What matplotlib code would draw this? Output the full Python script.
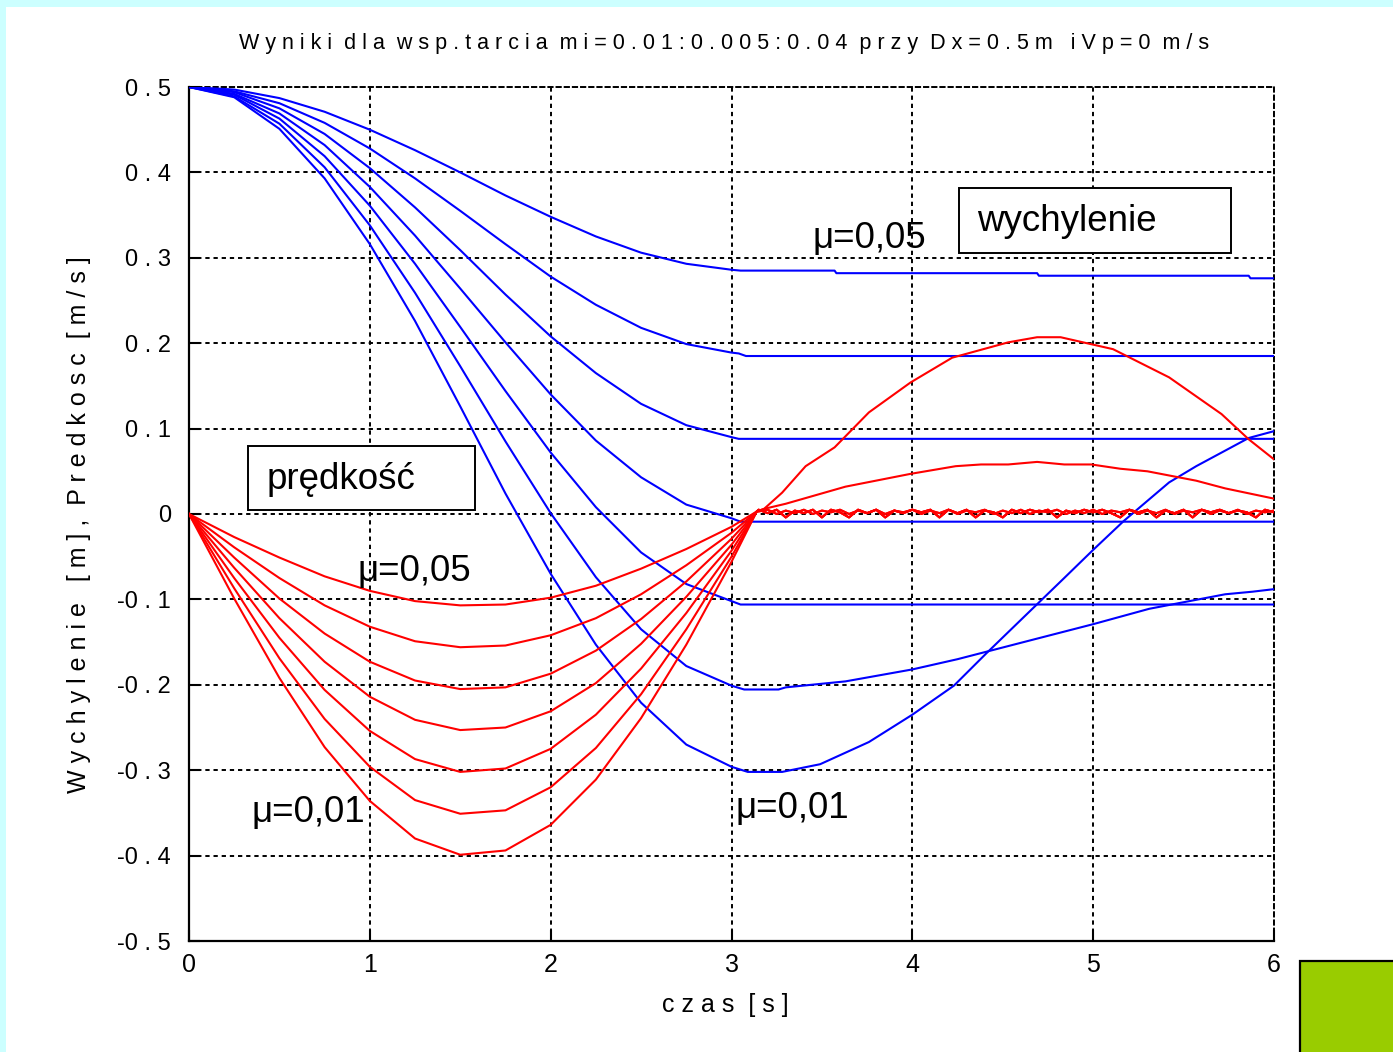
import numpy as np
import matplotlib
matplotlib.use("Agg")
import matplotlib.pyplot as plt
from matplotlib.patches import Rectangle

# ---------------- data ----------------
T_SWING = [0, 0.25, 0.5, 0.75, 1.0, 1.25, 1.5, 1.75, 2.0, 2.25, 2.5, 2.75, 3.0]

# displacement (wychylenie) during the first swing, top curve -> bottom curve
wych_1 = [0.5, 0.497, 0.487, 0.471, 0.450, 0.426, 0.400, 0.373, 0.348, 0.325, 0.306, 0.293, 0.286]
wych_2 = [0.5, 0.495, 0.481, 0.458, 0.428, 0.393, 0.355, 0.316, 0.278, 0.245, 0.218, 0.199, 0.189]
wych_3 = [0.5, 0.494, 0.475, 0.445, 0.405, 0.359, 0.309, 0.257, 0.208, 0.165, 0.129, 0.104, 0.090]
wych_4 = [0.5, 0.492, 0.469, 0.432, 0.383, 0.326, 0.264, 0.201, 0.140, 0.086, 0.043, 0.011, -0.005]
wych_5 = [0.5, 0.491, 0.463, 0.419, 0.361, 0.293, 0.219, 0.144, 0.072, 0.008, -0.045, -0.082, -0.102]
wych_6 = [0.5, 0.489, 0.457, 0.406, 0.338, 0.259, 0.173, 0.085, 0.001, -0.074, -0.135, -0.178, -0.201]
wych_7 = [0.5, 0.488, 0.451, 0.393, 0.316, 0.226, 0.126, 0.024, -0.070, -0.153, -0.221, -0.270, -0.296]

# displacement after the first swing (time, value)
tail1_t = [3.05, 3.57, 3.58, 4.69, 4.70, 5.86, 5.87, 6.0]
tail1_v = [0.285, 0.285, 0.282, 0.282, 0.279, 0.279, 0.276, 0.276]
tail2_t = [3.04, 3.08, 6.0]
tail2_v = [0.188, 0.185, 0.185]
tail3_t = [3.04, 6.0]
tail3_v = [0.088, 0.088]
tail4_t = [3.05, 6.0]
tail4_v = [-0.009, -0.009]
tail5_t = [3.05, 6.0]
tail5_v = [-0.106, -0.106]
tail6_t = [3.07, 3.26, 3.30, 3.63, 4.0, 4.25, 4.67, 5.0, 5.31, 5.73, 5.88, 6.0]
tail6_v = [-0.2055, -0.2055, -0.203, -0.196, -0.182, -0.170, -0.147, -0.129, -0.111, -0.094, -0.091, -0.088]
tail7_t = [3.09, 3.28, 3.49, 3.76, 4.0, 4.23, 4.41, 4.61, 4.83, 5.0, 5.17, 5.42, 5.57, 5.86, 6.0]
tail7_v = [-0.302, -0.302, -0.293, -0.267, -0.235, -0.201, -0.163, -0.122, -0.077, -0.042, -0.008, 0.037, 0.056, 0.089, 0.097]

# velocity (predkosc) during the first swing, top curve -> bottom curve
T_SWING_V = [0, 0.25, 0.5, 0.75, 1.0, 1.25, 1.5, 1.75, 2.0, 2.25, 2.5, 2.75, 3.0, 3.14]
pred_1 = [0, -0.027, -0.051, -0.073, -0.090, -0.102, -0.107, -0.106, -0.098, -0.084, -0.064, -0.041, -0.015, 0.003]
pred_2 = [0, -0.039, -0.075, -0.107, -0.132, -0.149, -0.156, -0.154, -0.142, -0.122, -0.094, -0.060, -0.022, 0.003]
pred_3 = [0, -0.051, -0.099, -0.140, -0.173, -0.195, -0.205, -0.203, -0.187, -0.160, -0.123, -0.079, -0.029, 0.003]
pred_4 = [0, -0.063, -0.122, -0.173, -0.214, -0.241, -0.253, -0.250, -0.231, -0.198, -0.152, -0.097, -0.036, 0.003]
pred_5 = [0, -0.075, -0.145, -0.206, -0.254, -0.287, -0.302, -0.298, -0.275, -0.235, -0.181, -0.116, -0.043, 0.003]
pred_6 = [0, -0.087, -0.169, -0.240, -0.296, -0.335, -0.351, -0.347, -0.320, -0.274, -0.211, -0.135, -0.050, 0.003]
pred_7 = [0, -0.099, -0.192, -0.273, -0.336, -0.380, -0.399, -0.394, -0.364, -0.311, -0.239, -0.153, -0.056, 0.003]

# velocity after the first swing
vtail6_t = [3.14, 3.18, 3.30, 3.63, 3.99, 4.24, 4.38, 4.53, 4.69, 4.84, 4.99, 5.15, 5.30, 5.57, 5.73, 6.0]
vtail6_v = [0.003, 0.006, 0.012, 0.032, 0.047, 0.056, 0.058, 0.058, 0.061, 0.058, 0.058, 0.053, 0.050, 0.039, 0.030, 0.018]
vtail7_t = [3.14, 3.18, 3.28, 3.41, 3.57, 3.76, 3.99, 4.22, 4.53, 4.69, 4.82, 5.11, 5.42, 5.71, 5.86, 6.0]
vtail7_v = [0.003, 0.006, 0.025, 0.056, 0.078, 0.119, 0.154, 0.183, 0.201, 0.207, 0.207, 0.193, 0.160, 0.117, 0.0875, 0.064]

# chattering of the stuck velocities around zero (t = 3.15 ... 6.0)
chatter_a = [0.005, 0.001, 0.005, -0.004, 0.004, 0.001, 0.005, -0.004, 0.005, 0.002,
             -0.004, 0.005, 0.001, 0.005, -0.004, 0.004, 0.001, 0.005, 0.002, 0.005,
             -0.004, 0.005, 0.001, 0.005, -0.004, 0.004, 0.002, -0.004, 0.005, 0.001,
             0.005, 0.002, 0.005, -0.004, 0.004, 0.001, 0.005, 0.002, 0.005, 0.001,
             -0.004, 0.005, 0.002, 0.005, -0.004, 0.004, 0.001, 0.005, -0.004, 0.005,
             0.002, 0.005, 0.001, 0.004, 0.002, -0.004, 0.005, 0.002]
chatter_b = [0.003, 0.005, 0.000, 0.004, 0.001, 0.005, 0.000, 0.004, 0.002, 0.005,
             0.000, 0.004, 0.001, 0.005, 0.000, 0.004, 0.002, 0.005, 0.000, 0.004,
             0.001, 0.005, 0.000, 0.004, 0.002, 0.005, 0.000, 0.004, 0.001, 0.005,
             0.000, 0.004, 0.002, 0.005, 0.000, 0.004, 0.001, 0.005, 0.000, 0.004,
             0.002, 0.005, 0.000, 0.004, 0.001, 0.005, 0.000, 0.004, 0.002, 0.005,
             0.000, 0.004, 0.001, 0.005, 0.000, 0.004, 0.002, 0.004]

x_ticks = [0, 1, 2, 3, 4, 5, 6]
x_tick_labels = ["0", "1", "2", "3", "4", "5", "6"]
y_ticks = [-0.5, -0.4, -0.3, -0.2, -0.1, 0, 0.1, 0.2, 0.3, 0.4, 0.5]
y_tick_labels = ["-0 . 5", "-0 . 4", "-0 . 3", "-0 . 2", "-0 . 1", "0",
                 "0 . 1", "0 . 2", "0 . 3", "0 . 4", "0 . 5"]

TITLE = "W y n i k i  d l a  w s p . t a r c i a  m i = 0 . 0 1 : 0 . 0 0 5 : 0 . 0 4  p r z y  D x = 0 . 5 m   i V p = 0  m / s"
YLABEL = "W y c h y l e n i e   [ m ] ,  P r e d k o s c  [ m / s ]"
XLABEL = "c z a s  [ s ]"

# ---------------- figure ----------------
W, H = 1393, 1052
fig = plt.figure(figsize=(W / 100, H / 100), dpi=100)
fig.patch.set_facecolor("white")

NARROW = ["Liberation Sans Narrow", "Liberation Sans", "DejaVu Sans"]
ARIAL = ["Liberation Sans", "DejaVu Sans"]

# light cyan frame strips and the green corner square
fig.patches.append(Rectangle((0, 0), 6 / W, 1, transform=fig.transFigure,
                             facecolor="#CCFFFF", edgecolor="none", zorder=0))
fig.patches.append(Rectangle((0, 1 - 7 / H), 1, 7 / H, transform=fig.transFigure,
                             facecolor="#CCFFFF", edgecolor="none", zorder=0))
fig.patches.append(Rectangle((1300 / W, -0.01), 0.2, (H - 961) / H + 0.01,
                             transform=fig.transFigure, facecolor="#99CC00",
                             edgecolor="black", linewidth=1.6, zorder=1))

ax = fig.add_axes([189 / W, 1 - 941 / H, (1274 - 189) / W, (941 - 87) / H])
ax.set_xlim(0, 6)
ax.set_ylim(-0.5, 0.5)

dash = (0, (2.2, 2.0))
ax.grid(True, color="black", linestyle=dash, linewidth=1.4)
ax.set_axisbelow(True)
for s in ["left", "bottom"]:
    ax.spines[s].set_linewidth(1.6)
for s in ["top", "right"]:
    ax.spines[s].set_linewidth(1.4)
    ax.spines[s].set_linestyle(dash)

ax.set_xticks(x_ticks)
ax.set_xticklabels(x_tick_labels, fontfamily=NARROW, fontsize=18)
ax.set_yticks(y_ticks)
ax.set_yticklabels(y_tick_labels, fontfamily=NARROW, fontsize=17)
ax.tick_params(axis="both", direction="in", length=8, width=1.5,
               top=False, right=False)
ax.tick_params(axis="y", pad=13)
ax.tick_params(axis="x", pad=9)

BLUE = "#0000FF"
RED = "#FF0000"
LW = 1.5

wych = [wych_1, wych_2, wych_3, wych_4, wych_5, wych_6, wych_7]
tails_t = [tail1_t, tail2_t, tail3_t, tail4_t, tail5_t, tail6_t, tail7_t]
tails_v = [tail1_v, tail2_v, tail3_v, tail4_v, tail5_v, tail6_v, tail7_v]
for w, tt, tv in zip(wych, tails_t, tails_v):
    ax.plot(list(T_SWING) + list(tt), list(w) + list(tv), color=BLUE, lw=LW, zorder=3)

chat_t = np.linspace(3.15, 6.0, len(chatter_a))
chat_tb = np.linspace(3.15, 6.0, len(chatter_b))
preds = [pred_1, pred_2, pred_3, pred_4, pred_5, pred_6, pred_7]
for i, p in enumerate(preds):
    if i < 5:
        ch_t, ch_v = (chat_t, chatter_a) if i % 2 == 0 else (chat_tb, chatter_b)
        ax.plot(list(T_SWING_V) + list(ch_t), list(p) + list(ch_v), color=RED, lw=LW, zorder=4)
    elif i == 5:
        ax.plot(list(T_SWING_V) + list(vtail6_t[1:]), list(p) + list(vtail6_v[1:]),
                color=RED, lw=LW, zorder=4)
    else:
        ax.plot(list(T_SWING_V) + list(vtail7_t[1:]), list(p) + list(vtail7_v[1:]),
                color=RED, lw=LW, zorder=4)

# annotation boxes
ax.add_patch(Rectangle((4.259, 0.306), 5.763 - 4.259, 0.382 - 0.306,
                       facecolor="white", edgecolor="black", lw=1.4, zorder=5))
ax.text(4.36, 0.343, "wychylenie", fontfamily=ARIAL, fontsize=26.5,
        va="center", ha="left", zorder=6)
ax.add_patch(Rectangle((0.326, 0.0047), 1.582 - 0.326, 0.0796 - 0.0047,
                       facecolor="white", edgecolor="black", lw=1.4, zorder=5))
ax.text(0.431, 0.040, "prędkość", fontfamily=ARIAL, fontsize=26.5,
        va="center", ha="left", zorder=6)

ax.text(3.45, 0.323, "μ=0,05", fontfamily=ARIAL, fontsize=26.5, va="center", ha="left", zorder=6)
ax.text(0.93, -0.067, "μ=0,05", fontfamily=ARIAL, fontsize=26.5, va="center", ha="left", zorder=6)
ax.text(0.343, -0.349, "μ=0,01", fontfamily=ARIAL, fontsize=26.5, va="center", ha="left", zorder=6)
ax.text(3.02, -0.345, "μ=0,01", fontfamily=ARIAL, fontsize=26.5, va="center", ha="left", zorder=6)

# titles and axis labels
fig.text(724 / W, 1 - 44 / H, TITLE, fontfamily=NARROW, fontsize=15.5,
         ha="center", va="center")
ax.set_xlabel(XLABEL, fontfamily=NARROW, fontsize=18)
ax.xaxis.set_label_coords((725 - 189) / 1085, -0.061)
ax.set_ylabel(YLABEL, fontfamily=NARROW, fontsize=18)
ax.yaxis.set_label_coords(-0.09, 0.487)

fig.savefig("out.png", dpi=100, facecolor=fig.get_facecolor())
